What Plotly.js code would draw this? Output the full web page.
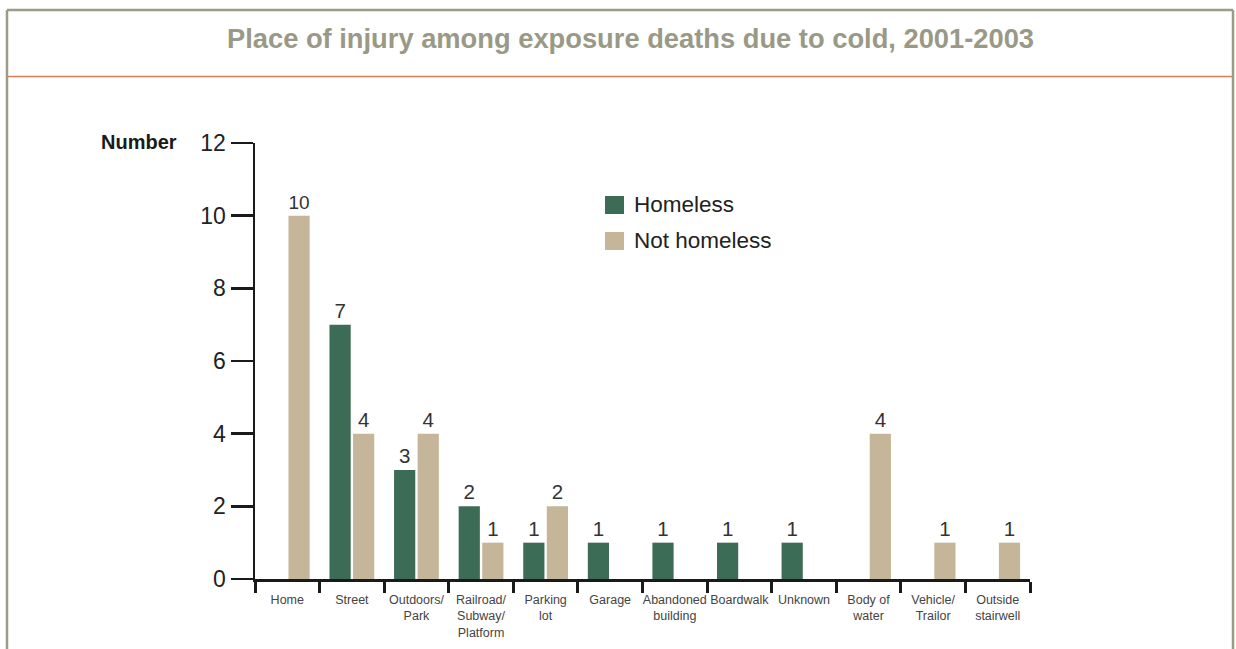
<!DOCTYPE html>
<html>
<head>
<meta charset="utf-8">
<script src="https://cdn.plot.ly/plotly-3.0.1.min.js"></script>
<style>html,body{margin:0;padding:0;background:#fff;}#chart{width:1236px;height:649px;}</style>
</head>
<body>
<div id="chart"></div>
<script>
// ---- data ----
const categories = ['Home', 'Street', 'Outdoors/<br>Park', 'Railroad/<br>Subway/<br>Platform', 'Parking<br>lot', 'Garage',
  'Abandoned<br>building', 'Boardwalk', 'Unknown', 'Body of<br>water', 'Vehicle/<br>Trailor', 'Outside<br>stairwell'];
const homeless    = [0, 7, 3, 2, 1, 1, 1, 1, 1, 0, 0, 0];
const notHomeless = [10, 4, 4, 1, 2, 0, 0, 0, 0, 4, 1, 1];
const yTickVals = [0, 2, 4, 6, 8, 10, 12];
const seriesNames = ['Homeless', 'Not homeless'];
const titleText = 'Place of injury among exposure deaths due to cold, 2001-2003';
const yLabel = 'Number';

// ---- style ----
const GREEN = '#3c6c56';
const BEIGE = '#c6b699';
const SANS = '"Liberation Sans", Arial, Helvetica, sans-serif';
const W = 1236, H = 649;
const M = {l: 255, r: 206, t: 143, b: 70};
const PW = W - M.l - M.r, PH = H - M.t - M.b;
const X = px => (px - M.l) / PW;
const Y = py => (H - M.b - py) / PH;

const labelText = arr => arr.map(v => v > 0 ? String(v) : '');

const barCommon = {
  type: 'bar', x: categories, textposition: 'outside', cliponaxis: false,
  textfont: {family: SANS, size: 20.5, color: '#333333'}, showlegend: false, hoverinfo: 'skip'
};
const traces = [
  Object.assign({}, barCommon, {name: seriesNames[0], y: homeless, text: labelText(homeless), marker: {color: GREEN}}),
  Object.assign({}, barCommon, {name: seriesNames[1], y: notHomeless, text: labelText(notHomeless), marker: {color: BEIGE}})
];

const frameColor = '#9b9b88';
const shapes = [
  {type: 'line', xref: 'paper', yref: 'paper', x0: X(7), x1: X(7), y0: Y(H + 5), y1: Y(10), line: {color: frameColor, width: 2.5}},
  {type: 'line', xref: 'paper', yref: 'paper', x0: X(7), x1: X(1233), y0: Y(10), y1: Y(10), line: {color: frameColor, width: 2.5}},
  {type: 'line', xref: 'paper', yref: 'paper', x0: X(1233), x1: X(1233), y0: Y(10), y1: Y(H + 5), line: {color: frameColor, width: 2.5}},
  {type: 'line', xref: 'paper', yref: 'paper', x0: X(8), x1: X(1232), y0: Y(76.5), y1: Y(76.5), line: {color: '#e07f55', width: 1.5}},
  // legend swatches
  {type: 'rect', xref: 'paper', yref: 'paper', x0: X(605), x1: X(624), y0: Y(196), y1: Y(214), fillcolor: GREEN, line: {width: 0}},
  {type: 'rect', xref: 'paper', yref: 'paper', x0: X(605), x1: X(624), y0: Y(232), y1: Y(250), fillcolor: BEIGE, line: {width: 0}}
];

const annotations = [
  {xref: 'paper', yref: 'paper', x: X(179), y: Y(142), xanchor: 'right', yanchor: 'middle', showarrow: false,
   text: yLabel, font: {family: SANS, size: 20, color: '#1a1a1a', weight: 'bold'}},
  {xref: 'paper', yref: 'paper', x: X(632), y: Y(204), xanchor: 'left', yanchor: 'middle', showarrow: false,
   text: seriesNames[0], font: {family: SANS, size: 22.5, color: '#222222'}},
  {xref: 'paper', yref: 'paper', x: X(632), y: Y(240), xanchor: 'left', yanchor: 'middle', showarrow: false,
   text: seriesNames[1], font: {family: SANS, size: 22.5, color: '#222222'}}
];

const layout = {
  width: W, height: H,
  margin: M,
  paper_bgcolor: '#ffffff', plot_bgcolor: '#ffffff',
  title: {text: titleText, x: 630.5 / W, xref: 'container', xanchor: 'center', y: 1 - 38 / H, yref: 'container', yanchor: 'middle',
          font: {family: SANS, size: 27.3, color: '#999986', weight: 'bold'}},
  barmode: 'group', bargap: 0.27, bargroupgap: 0.1,
  xaxis: {type: 'category', range: [-0.5, categories.length - 0.5], tickson: 'boundaries', ticks: 'outside', ticklen: 11,
          tickwidth: 3, tickcolor: '#1a1a1a', showline: true, linewidth: 3, linecolor: '#1a1a1a', showgrid: false,
          zeroline: false, tickangle: 0, ticklabelstandoff: 7, tickfont: {family: SANS, size: 12.5, color: '#444444'}, fixedrange: true},
  yaxis: {range: [0, 12], tickvals: yTickVals, ticktext: yTickVals.map(String), ticks: 'outside', ticklen: 22, tickwidth: 2.5,
          tickcolor: '#1a1a1a', showline: true, linewidth: 2.5, linecolor: '#1a1a1a', showgrid: false, zeroline: false,
          ticklabelstandoff: 0, tickfont: {family: SANS, size: 23, color: '#222222'}, fixedrange: true},
  shapes: shapes,
  annotations: annotations,
  showlegend: false
};

Plotly.newPlot('chart', traces, layout, {displayModeBar: false, staticPlot: true});
</script>
</body>
</html>
